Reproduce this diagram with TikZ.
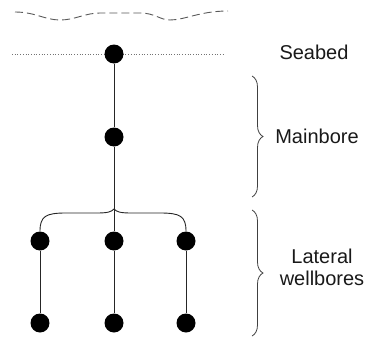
\documentclass[tikz,border=0pt]{standalone}
\usepackage{fontspec}
\setmainfont{Liberation Sans}
\usetikzlibrary{decorations.pathreplacing}
\begin{document}
\begin{tikzpicture}[x=1pt,y=-1pt,
  well/.style={circle,fill=black,inner sep=0pt,minimum size=19pt},
  bore/.style={draw=black!85,line width=0.9pt},
  curly/.style={draw=black!75,line width=0.8pt,decorate,
    decoration={brace,amplitude=11pt,aspect=0.5}},
  lbl/.style={font=\fontsize{20}{22}\selectfont,align=center,text=black!90}]
\useasboundingbox (0,0) rectangle (375,343);
% sea surface
\draw[black!65,line width=0.9pt,dash pattern=on 8pt off 4pt]
  (15,12) .. controls (35,12) and (45,20) .. (60,20)
  .. controls (75,20) and (85,13) .. (100,13) -- (140,13)
  .. controls (155,13) and (160,20) .. (170,20)
  .. controls (185,20) and (200,11) .. (228,11);
% seabed level
\draw[black!55,line width=0.7pt,dotted] (12,54) -- (224,54);
% wells
\node[well] (s) at (114,54) {};
\node[well] (m) at (114,137) {};
\node[well] (la) at (40,241) {};
\node[well] (lb) at (114,241) {};
\node[well] (lc) at (186,241) {};
\node[well] (ea) at (40,323) {};
\node[well] (eb) at (114,323) {};
\node[well] (ec) at (186,323) {};
\coordinate (j) at (114,209);
\draw[bore] (s) -- (m) -- (lb) -- (eb);
\draw[bore] (la) -- (ea);
\draw[bore] (lc) -- (ec);
% branching junction
\draw[bore] (la.north) .. controls (40,216) and (46,213) .. (66,213) -- (96,213)
  .. controls (108,213) and (111,212) .. (j)
  .. controls (117,212) and (120,213) .. (132,213) -- (160,213)
  .. controls (180,213) and (186,216) .. (lc.north);
% labels and braces
\node[lbl] (tsea) at (314,52) {Seabed};
\node[lbl] (tmain) at (317,136) {Mainbore};
\node[lbl] (tlat) at (322,267) {Lateral\\wellbores};
\draw[curly] (252,76) -- (252,197);
\draw[curly] (252,210) -- (252,336);
\end{tikzpicture}
\end{document}
